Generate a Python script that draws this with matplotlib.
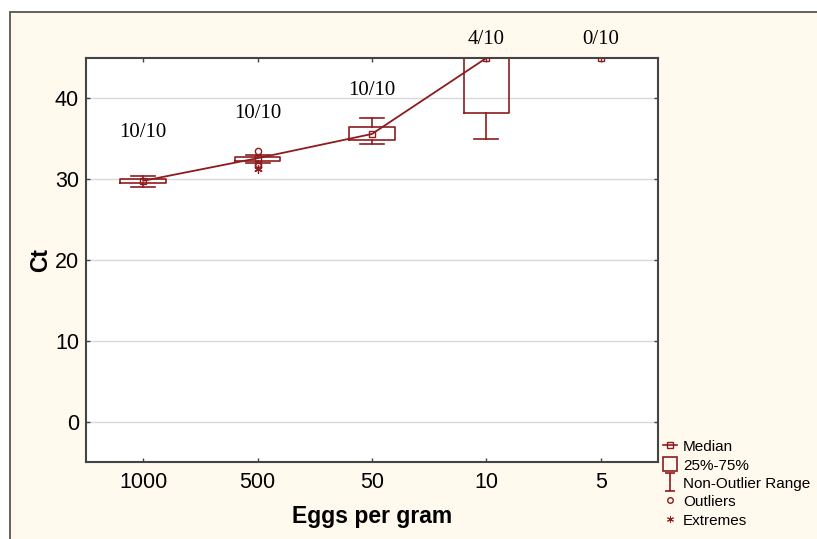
"""Boxplot of Ct values per egg concentration (Statistica style)."""

import matplotlib
matplotlib.use("Agg")
import matplotlib.pyplot as plt
from matplotlib.lines import Line2D
from matplotlib.patches import Rectangle, Patch
from matplotlib.path import Path

# data
categories = ["1000", "500", "50", "10", "5"]
detected = ["10/10", "10/10", "10/10", "4/10", "0/10"]
label_y = [35.75, 38.15, 40.95, 47.25, 47.25]
medians = [29.8, 32.6, 35.6, 45.0, 45.0]
q1 = [29.5, 32.2, 34.9, 38.2]
q3 = [30.0, 32.75, 36.4, 45.0]
whis_lo = [29.05, 32.0, 34.3, 35.0]
whis_hi = [30.4, 33.0, 37.6, 45.0]
outliers = {1: [33.45, 31.85, 31.65]}
extremes = {1: [31.25]}

red = "#8E1B1E"
grey = "#444444"

fig = plt.figure(figsize=(8.17, 5.39), dpi=100, facecolor="white")
fig.patches.append(Rectangle((10 / 817, -0.01), 1.0, 1 - 12 / 539 + 0.01,
                             transform=fig.transFigure, facecolor="#FFF9EE",
                             edgecolor="#555555", linewidth=1.3, zorder=-10))

ax = fig.add_axes([86 / 817, 77 / 539, 572 / 817, 404 / 539])
ax.set_facecolor("white")

stats = []
for i in range(len(q1)):
    stats.append(dict(med=medians[i], q1=q1[i], q3=q3[i],
                      whislo=whis_lo[i], whishi=whis_hi[i],
                      fliers=outliers.get(i, [])))
ax.bxp(stats, positions=range(len(q1)), widths=0.4, capwidths=0.21,
       boxprops=dict(color=red, linewidth=1.2),
       whiskerprops=dict(color=red, linewidth=1.2),
       capprops=dict(color=red, linewidth=1.2),
       medianprops=dict(linewidth=0),
       flierprops=dict(marker="o", markersize=4.5, markerfacecolor="none",
                       markeredgecolor=red, markeredgewidth=1.0))

for i, vals in extremes.items():
    ax.plot([i] * len(vals), vals, linestyle="none", marker=(6, 2, 0),
            markersize=6, color=red, markeredgewidth=0.9)

# median line stops at the last detected group
ax.plot(range(4), medians[:4], color=red, linewidth=1.3, zorder=4)
ax.plot(range(len(categories)), medians, linestyle="none",
        marker="s", markersize=5, markerfacecolor="none",
        markeredgecolor=red, markeredgewidth=1.0, zorder=4)

for i, txt in enumerate(detected):
    ax.text(i, label_y[i], txt, ha="center", va="center", fontsize=15,
            family="Liberation Serif", clip_on=False)

ax.set_xlim(-0.5, 4.5)
ax.set_ylim(-5, 45)
ax.set_xticks(range(len(categories)))
ax.set_xticklabels(categories)
ax.set_yticks([0, 10, 20, 30, 40])
ax.yaxis.grid(True, color="#D9D9D9", linewidth=1.0)
ax.set_axisbelow(True)
ax.tick_params(direction="in", length=3, width=1.0, color=grey,
               top=True, right=True, labelsize=15.5)
ax.tick_params(axis="x", pad=7)
ax.tick_params(axis="y", pad=5)
for lab in ax.get_xticklabels() + ax.get_yticklabels():
    lab.set_family("Liberation Sans")
for sp in ax.spines.values():
    sp.set_color(grey)
    sp.set_linewidth(1.5)

ax.set_xlabel("Eggs per gram", fontsize=16.5, fontweight="bold",
              family="Liberation Sans", labelpad=9)
ax.set_ylabel("Ct", fontsize=16.5, fontweight="bold",
              family="Liberation Sans", labelpad=2)

i_path = Path([(-0.5, 1), (0.5, 1), (0, 1), (0, -1), (-0.5, -1), (0.5, -1)],
              [Path.MOVETO, Path.LINETO, Path.MOVETO, Path.LINETO,
               Path.MOVETO, Path.LINETO])
handles = [
    Line2D([], [], color=red, linewidth=1.2, marker="s", markersize=4,
           markerfacecolor="none"),
    Patch(facecolor="none", edgecolor=red, linewidth=1.2),
    Line2D([], [], linestyle="none", marker=i_path, markersize=13,
           markerfacecolor="none", markeredgecolor=red, markeredgewidth=1.2),
    Line2D([], [], linestyle="none", marker="o", markersize=4,
           markerfacecolor="none", markeredgecolor=red),
    Line2D([], [], linestyle="none", marker=(6, 2, 0), markersize=5,
           color=red, markeredgewidth=0.7),
]
labels = ["Median", "25%-75%", "Non-Outlier Range", "Outliers", "Extremes"]
fig.legend(handles, labels, loc="upper left",
           bbox_to_anchor=(663 / 817, 1 - 439 / 539), frameon=False,
           prop=dict(family="Liberation Sans", size=11),
           handlelength=0.9, handleheight=1.0, handletextpad=0.4,
           labelspacing=0.22, borderpad=0, borderaxespad=0)

fig.savefig("out.png", dpi=100, facecolor=fig.get_facecolor())
